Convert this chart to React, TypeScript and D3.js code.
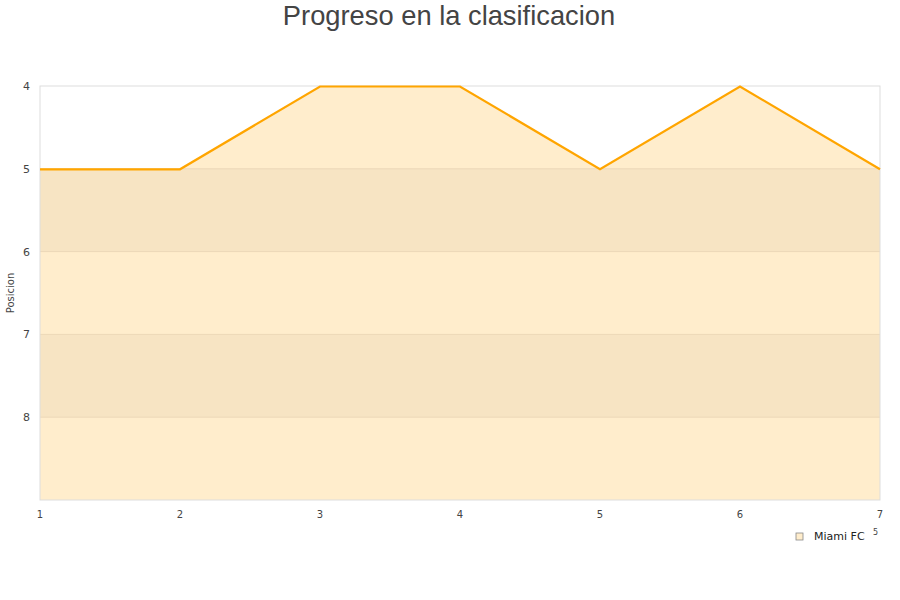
import React from 'react';
import * as d3 from 'd3';

const jornadas = [1, 2, 3, 4, 5, 6, 7];
const posiciones = [5, 5, 4, 4, 5, 4, 5];
const yTicks = [4, 5, 6, 7, 8];
const equipo = 'Miami FC';

export default function App(): JSX.Element {
  const width = 900;
  const height = 600;
  const left = 40;
  const right = 880;
  const top = 86;
  const bottom = 500;

  const x = d3.scaleLinear().domain([1, 7]).range([left, right]);
  const y = d3.scaleLinear().domain([4, 9]).range([top, bottom]);

  const pts = jornadas.map((j, i) => [j, posiciones[i]] as [number, number]);
  const line = d3
    .line<[number, number]>()
    .x((d) => x(d[0]))
    .y((d) => y(d[1]) + 0.5);
  const area = d3
    .area<[number, number]>()
    .x((d) => x(d[0]))
    .y0(y(9))
    .y1((d) => y(d[1]));

  // bandas alternas
  const bands = [4, 5, 6, 7, 8];

  return (
    <svg
      width={width}
      height={height}
      style={{ position: 'absolute', left: 0, top: 0, fontFamily: 'DejaVu Sans, sans-serif' }}
    >
      <rect width={width} height={height} fill="#fff" />
      <text
        x={449}
        y={25}
        textAnchor="middle"
        fontFamily="Liberation Sans, Arial, sans-serif"
        fontSize={27.3}
        fill="#444"
      >
        Progreso en la clasificacion
      </text>
      {bands.map((b, i) => (
        <rect
          key={b}
          x={left}
          y={y(b)}
          width={right - left}
          height={y(b + 1) - y(b)}
          fill={i % 2 === 1 ? '#fffbf2' : '#ffffff'}
        />
      ))}
      <path d={area(pts) ?? ''} fill="#ffedcc" />
      {bands.map((b, i) =>
        i % 2 === 1 ? (
          <rect
            key={'d' + b}
            x={left}
            y={y(b)}
            width={right - left}
            height={y(b + 1) - y(b)}
            fill="#f7e4c3"
          />
        ) : null
      )}
      {yTicks.slice(1).map((t) => (
        <line key={t} x1={left} x2={right} y1={y(t)} y2={y(t)} stroke="#ecd8b8" strokeWidth={1} />
      ))}
      <rect x={left} y={top} width={right - left} height={bottom - top} fill="none" stroke="#dddddd" />
      <path d={line(pts) ?? ''} fill="none" stroke="#ffa500" strokeWidth={2.2} />
      {yTicks.map((t) => (
        <text key={t} x={30} y={y(t) + 4} textAnchor="end" fontSize={11} fill="#444">
          {t}
        </text>
      ))}
      {jornadas.map((j) => (
        <text key={j} x={x(j)} y={518} textAnchor="middle" fontSize={10} fill="#444">
          {j}
        </text>
      ))}
      <text
        transform={`translate(14,${(top + bottom) / 2}) rotate(-90)`}
        textAnchor="middle"
        fontSize={10}
        fill="#444"
      >
        Posicion
      </text>
      <rect x={796} y={533} width={7} height={7} fill="#ffedcc" stroke="#888" strokeWidth={0.8} />
      <text x={814} y={540} fontSize={11} fill="#222">
        {equipo}
      </text>
      <text x={873} y={535} fontSize={8} fill="#444">
        5
      </text>
    </svg>
  );
}
